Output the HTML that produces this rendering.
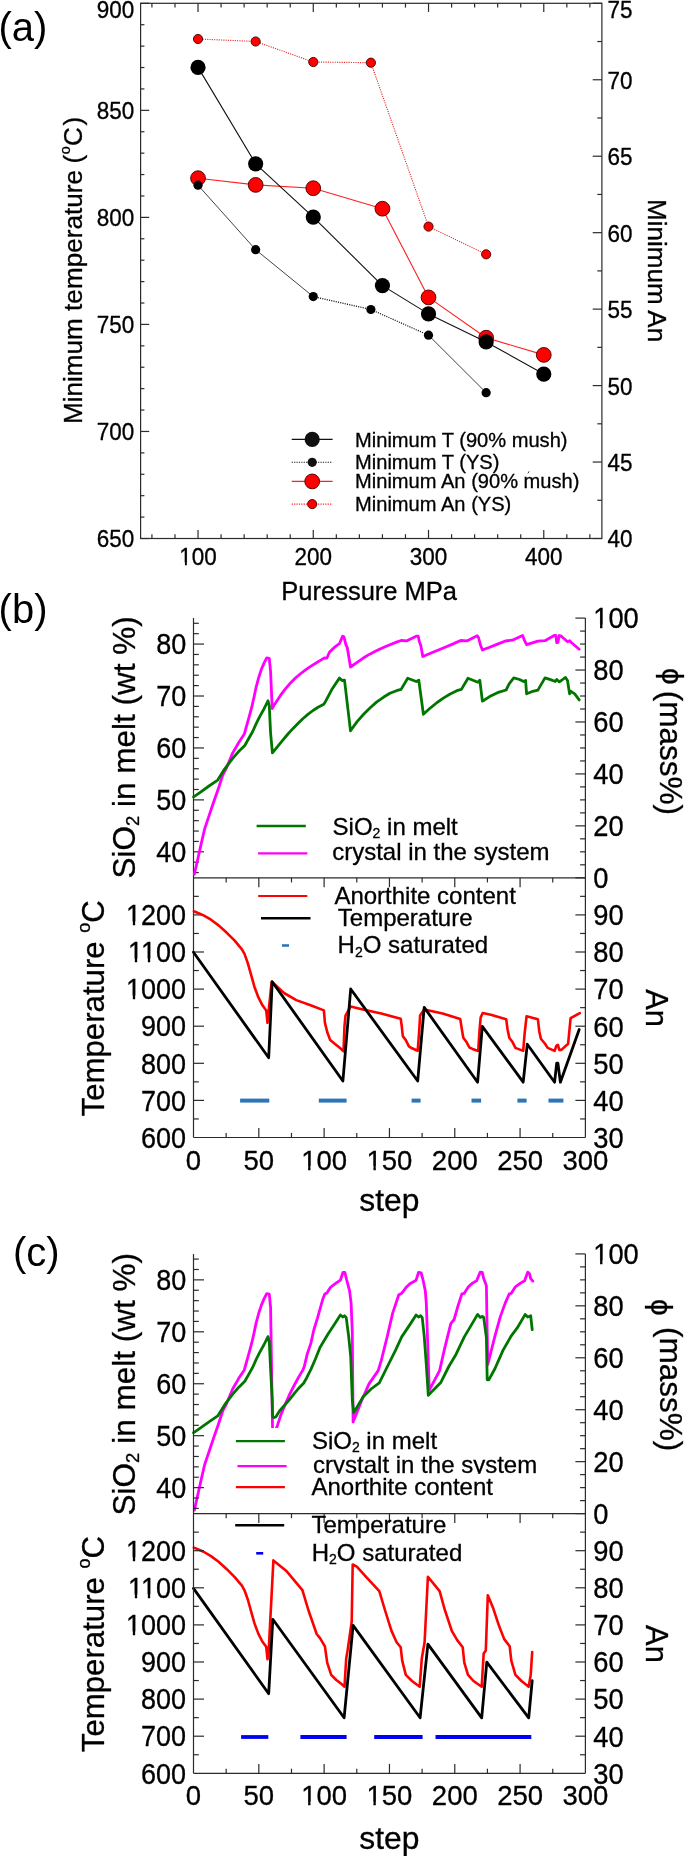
<!DOCTYPE html>
<html><head><meta charset="utf-8"><title>figure</title>
<style>
html,body{margin:0;padding:0;background:#fff;}
body{width:685px;height:1856px;overflow:hidden;}
svg{display:block;will-change:transform;}
svg text{font-family:"Liberation Sans", sans-serif;fill:#000;stroke:#000;stroke-width:0.3px;}
</style></head><body>
<svg width="685" height="1856" viewBox="0 0 685 1856">
<rect x="0" y="0" width="685" height="1856" fill="#fff"/>
<rect x="140.6" y="3.3" width="461.3" height="535.2" fill="none" stroke="#2b2b2b" stroke-width="1.2"/>
<line x1="140.6" y1="538.5" x2="149.2" y2="538.5" stroke="#2b2b2b" stroke-width="1.2"/>
<line x1="140.6" y1="517.09" x2="144.4" y2="517.09" stroke="#2b2b2b" stroke-width="1.2"/>
<line x1="140.6" y1="495.68" x2="144.4" y2="495.68" stroke="#2b2b2b" stroke-width="1.2"/>
<line x1="140.6" y1="474.28" x2="144.4" y2="474.28" stroke="#2b2b2b" stroke-width="1.2"/>
<line x1="140.6" y1="452.87" x2="144.4" y2="452.87" stroke="#2b2b2b" stroke-width="1.2"/>
<line x1="140.6" y1="431.46" x2="149.2" y2="431.46" stroke="#2b2b2b" stroke-width="1.2"/>
<line x1="140.6" y1="410.05" x2="144.4" y2="410.05" stroke="#2b2b2b" stroke-width="1.2"/>
<line x1="140.6" y1="388.64" x2="144.4" y2="388.64" stroke="#2b2b2b" stroke-width="1.2"/>
<line x1="140.6" y1="367.24" x2="144.4" y2="367.24" stroke="#2b2b2b" stroke-width="1.2"/>
<line x1="140.6" y1="345.83" x2="144.4" y2="345.83" stroke="#2b2b2b" stroke-width="1.2"/>
<line x1="140.6" y1="324.42" x2="149.2" y2="324.42" stroke="#2b2b2b" stroke-width="1.2"/>
<line x1="140.6" y1="303.01" x2="144.4" y2="303.01" stroke="#2b2b2b" stroke-width="1.2"/>
<line x1="140.6" y1="281.6" x2="144.4" y2="281.6" stroke="#2b2b2b" stroke-width="1.2"/>
<line x1="140.6" y1="260.2" x2="144.4" y2="260.2" stroke="#2b2b2b" stroke-width="1.2"/>
<line x1="140.6" y1="238.79" x2="144.4" y2="238.79" stroke="#2b2b2b" stroke-width="1.2"/>
<line x1="140.6" y1="217.38" x2="149.2" y2="217.38" stroke="#2b2b2b" stroke-width="1.2"/>
<line x1="140.6" y1="195.97" x2="144.4" y2="195.97" stroke="#2b2b2b" stroke-width="1.2"/>
<line x1="140.6" y1="174.56" x2="144.4" y2="174.56" stroke="#2b2b2b" stroke-width="1.2"/>
<line x1="140.6" y1="153.16" x2="144.4" y2="153.16" stroke="#2b2b2b" stroke-width="1.2"/>
<line x1="140.6" y1="131.75" x2="144.4" y2="131.75" stroke="#2b2b2b" stroke-width="1.2"/>
<line x1="140.6" y1="110.34" x2="149.2" y2="110.34" stroke="#2b2b2b" stroke-width="1.2"/>
<line x1="140.6" y1="88.93" x2="144.4" y2="88.93" stroke="#2b2b2b" stroke-width="1.2"/>
<line x1="140.6" y1="67.52" x2="144.4" y2="67.52" stroke="#2b2b2b" stroke-width="1.2"/>
<line x1="140.6" y1="46.12" x2="144.4" y2="46.12" stroke="#2b2b2b" stroke-width="1.2"/>
<line x1="140.6" y1="24.71" x2="144.4" y2="24.71" stroke="#2b2b2b" stroke-width="1.2"/>
<line x1="140.6" y1="3.3" x2="149.2" y2="3.3" stroke="#2b2b2b" stroke-width="1.2"/>
<line x1="601.9" y1="538.5" x2="592.7" y2="538.5" stroke="#2b2b2b" stroke-width="1.2"/>
<line x1="601.9" y1="500.27" x2="597.3" y2="500.27" stroke="#2b2b2b" stroke-width="1.2"/>
<line x1="601.9" y1="462.04" x2="592.7" y2="462.04" stroke="#2b2b2b" stroke-width="1.2"/>
<line x1="601.9" y1="423.81" x2="597.3" y2="423.81" stroke="#2b2b2b" stroke-width="1.2"/>
<line x1="601.9" y1="385.59" x2="592.7" y2="385.59" stroke="#2b2b2b" stroke-width="1.2"/>
<line x1="601.9" y1="347.36" x2="597.3" y2="347.36" stroke="#2b2b2b" stroke-width="1.2"/>
<line x1="601.9" y1="309.13" x2="592.7" y2="309.13" stroke="#2b2b2b" stroke-width="1.2"/>
<line x1="601.9" y1="270.9" x2="597.3" y2="270.9" stroke="#2b2b2b" stroke-width="1.2"/>
<line x1="601.9" y1="232.67" x2="592.7" y2="232.67" stroke="#2b2b2b" stroke-width="1.2"/>
<line x1="601.9" y1="194.44" x2="597.3" y2="194.44" stroke="#2b2b2b" stroke-width="1.2"/>
<line x1="601.9" y1="156.21" x2="592.7" y2="156.21" stroke="#2b2b2b" stroke-width="1.2"/>
<line x1="601.9" y1="117.99" x2="597.3" y2="117.99" stroke="#2b2b2b" stroke-width="1.2"/>
<line x1="601.9" y1="79.76" x2="592.7" y2="79.76" stroke="#2b2b2b" stroke-width="1.2"/>
<line x1="601.9" y1="41.53" x2="597.3" y2="41.53" stroke="#2b2b2b" stroke-width="1.2"/>
<line x1="601.9" y1="3.3" x2="592.7" y2="3.3" stroke="#2b2b2b" stroke-width="1.2"/>
<line x1="151.93" y1="538.5" x2="151.93" y2="534.2" stroke="#2b2b2b" stroke-width="1.2"/>
<line x1="151.93" y1="3.3" x2="151.93" y2="7.6" stroke="#2b2b2b" stroke-width="1.2"/>
<line x1="174.98" y1="538.5" x2="174.98" y2="534.2" stroke="#2b2b2b" stroke-width="1.2"/>
<line x1="174.98" y1="3.3" x2="174.98" y2="7.6" stroke="#2b2b2b" stroke-width="1.2"/>
<line x1="198.03" y1="538.5" x2="198.03" y2="529.9" stroke="#2b2b2b" stroke-width="1.2"/>
<line x1="198.03" y1="3.3" x2="198.03" y2="11.9" stroke="#2b2b2b" stroke-width="1.2"/>
<line x1="221.08" y1="538.5" x2="221.08" y2="534.2" stroke="#2b2b2b" stroke-width="1.2"/>
<line x1="221.08" y1="3.3" x2="221.08" y2="7.6" stroke="#2b2b2b" stroke-width="1.2"/>
<line x1="244.12" y1="538.5" x2="244.12" y2="534.2" stroke="#2b2b2b" stroke-width="1.2"/>
<line x1="244.12" y1="3.3" x2="244.12" y2="7.6" stroke="#2b2b2b" stroke-width="1.2"/>
<line x1="267.18" y1="538.5" x2="267.18" y2="534.2" stroke="#2b2b2b" stroke-width="1.2"/>
<line x1="267.18" y1="3.3" x2="267.18" y2="7.6" stroke="#2b2b2b" stroke-width="1.2"/>
<line x1="290.23" y1="538.5" x2="290.23" y2="534.2" stroke="#2b2b2b" stroke-width="1.2"/>
<line x1="290.23" y1="3.3" x2="290.23" y2="7.6" stroke="#2b2b2b" stroke-width="1.2"/>
<line x1="313.27" y1="538.5" x2="313.27" y2="529.9" stroke="#2b2b2b" stroke-width="1.2"/>
<line x1="313.27" y1="3.3" x2="313.27" y2="11.9" stroke="#2b2b2b" stroke-width="1.2"/>
<line x1="336.33" y1="538.5" x2="336.33" y2="534.2" stroke="#2b2b2b" stroke-width="1.2"/>
<line x1="336.33" y1="3.3" x2="336.33" y2="7.6" stroke="#2b2b2b" stroke-width="1.2"/>
<line x1="359.38" y1="538.5" x2="359.38" y2="534.2" stroke="#2b2b2b" stroke-width="1.2"/>
<line x1="359.38" y1="3.3" x2="359.38" y2="7.6" stroke="#2b2b2b" stroke-width="1.2"/>
<line x1="382.43" y1="538.5" x2="382.43" y2="534.2" stroke="#2b2b2b" stroke-width="1.2"/>
<line x1="382.43" y1="3.3" x2="382.43" y2="7.6" stroke="#2b2b2b" stroke-width="1.2"/>
<line x1="405.48" y1="538.5" x2="405.48" y2="534.2" stroke="#2b2b2b" stroke-width="1.2"/>
<line x1="405.48" y1="3.3" x2="405.48" y2="7.6" stroke="#2b2b2b" stroke-width="1.2"/>
<line x1="428.52" y1="538.5" x2="428.52" y2="529.9" stroke="#2b2b2b" stroke-width="1.2"/>
<line x1="428.52" y1="3.3" x2="428.52" y2="11.9" stroke="#2b2b2b" stroke-width="1.2"/>
<line x1="451.58" y1="538.5" x2="451.58" y2="534.2" stroke="#2b2b2b" stroke-width="1.2"/>
<line x1="451.58" y1="3.3" x2="451.58" y2="7.6" stroke="#2b2b2b" stroke-width="1.2"/>
<line x1="474.62" y1="538.5" x2="474.62" y2="534.2" stroke="#2b2b2b" stroke-width="1.2"/>
<line x1="474.62" y1="3.3" x2="474.62" y2="7.6" stroke="#2b2b2b" stroke-width="1.2"/>
<line x1="497.68" y1="538.5" x2="497.68" y2="534.2" stroke="#2b2b2b" stroke-width="1.2"/>
<line x1="497.68" y1="3.3" x2="497.68" y2="7.6" stroke="#2b2b2b" stroke-width="1.2"/>
<line x1="520.73" y1="538.5" x2="520.73" y2="534.2" stroke="#2b2b2b" stroke-width="1.2"/>
<line x1="520.73" y1="3.3" x2="520.73" y2="7.6" stroke="#2b2b2b" stroke-width="1.2"/>
<line x1="543.77" y1="538.5" x2="543.77" y2="529.9" stroke="#2b2b2b" stroke-width="1.2"/>
<line x1="543.77" y1="3.3" x2="543.77" y2="11.9" stroke="#2b2b2b" stroke-width="1.2"/>
<line x1="566.83" y1="538.5" x2="566.83" y2="534.2" stroke="#2b2b2b" stroke-width="1.2"/>
<line x1="566.83" y1="3.3" x2="566.83" y2="7.6" stroke="#2b2b2b" stroke-width="1.2"/>
<line x1="589.88" y1="538.5" x2="589.88" y2="534.2" stroke="#2b2b2b" stroke-width="1.2"/>
<line x1="589.88" y1="3.3" x2="589.88" y2="7.6" stroke="#2b2b2b" stroke-width="1.2"/>
<g transform="translate(134.3 547.4) scale(1 1.075)"><text font-size="22.5" text-anchor="end">650</text></g>
<g transform="translate(134.3 440.36) scale(1 1.075)"><text font-size="22.5" text-anchor="end">700</text></g>
<g transform="translate(134.3 333.32) scale(1 1.075)"><text font-size="22.5" text-anchor="end">750</text></g>
<g transform="translate(134.3 226.28) scale(1 1.075)"><text font-size="22.5" text-anchor="end">800</text></g>
<g transform="translate(134.3 119.24) scale(1 1.075)"><text font-size="22.5" text-anchor="end">850</text></g>
<g transform="translate(134.3 17.8) scale(1 1.075)"><text font-size="22.5" text-anchor="end">900</text></g>
<g transform="translate(607.6 547.46) scale(1 1.075)"><text font-size="22.5" text-anchor="start">40</text></g>
<g transform="translate(607.6 471) scale(1 1.075)"><text font-size="22.5" text-anchor="start">45</text></g>
<g transform="translate(607.6 394.55) scale(1 1.075)"><text font-size="22.5" text-anchor="start">50</text></g>
<g transform="translate(607.6 318.09) scale(1 1.075)"><text font-size="22.5" text-anchor="start">55</text></g>
<g transform="translate(607.6 241.63) scale(1 1.075)"><text font-size="22.5" text-anchor="start">60</text></g>
<g transform="translate(607.6 165.17) scale(1 1.075)"><text font-size="22.5" text-anchor="start">65</text></g>
<g transform="translate(607.6 88.72) scale(1 1.075)"><text font-size="22.5" text-anchor="start">70</text></g>
<g transform="translate(607.6 17.6) scale(1 1.075)"><text font-size="22.5" text-anchor="start">75</text></g>
<g transform="translate(198.03 565.3) scale(1 1.075)"><text font-size="22.5" text-anchor="middle">100</text><rect x="-17.87" y="-2.81" width="4.77" height="4.5" fill="#fff"/><rect x="-11.17" y="-2.81" width="4.5" height="4.5" fill="#fff"/></g>
<g transform="translate(313.27 565.3) scale(1 1.075)"><text font-size="22.5" text-anchor="middle">200</text></g>
<g transform="translate(428.52 565.3) scale(1 1.075)"><text font-size="22.5" text-anchor="middle">300</text></g>
<g transform="translate(543.77 565.3) scale(1 1.075)"><text font-size="22.5" text-anchor="middle">400</text></g>
<text x="281.3" y="600.1" font-size="25.5" text-anchor="start">Puressure MPa</text>
<text x="82.3" y="424.1" font-size="26.14" text-anchor="start" transform="rotate(-90 82.3 424.1)">Minimum temperature</text>
<text x="82.3" y="163.4" font-size="26.14" text-anchor="start" transform="rotate(-90 82.3 163.4)">(</text>
<text x="69.7" y="154.2" font-size="14.5" text-anchor="start" transform="rotate(-90 69.7 154.2)">o</text>
<text x="82.3" y="146" font-size="26.14" text-anchor="start" transform="rotate(-90 82.3 146)">C</text>
<text x="82.3" y="125.6" font-size="26.14" text-anchor="start" transform="rotate(-90 82.3 125.6)">)</text>
<text x="647.8" y="199.1" font-size="26" text-anchor="start" transform="rotate(90 647.8 199.1)">Minimum An</text>
<text x="-1.6" y="41.2" font-size="40" text-anchor="start" style="stroke-width:0">(a)</text>
<polyline points="198.03,39 255.65,41.5 313.27,62 370.9,62.7 428.52,226.6 486.15,254.3" fill="none" stroke="#e42a2a" stroke-width="1.15" stroke-linejoin="round" stroke-linecap="butt" stroke-dasharray="1.1 1.2"/>
<polyline points="198.03,178.2 255.65,184.9 313.27,188.2 382.43,208.7 428.52,297.4 486.15,337.7 543.77,354.9" fill="none" stroke="#ff2020" stroke-width="1.1" stroke-linejoin="round" stroke-linecap="round"/>
<polyline points="198.03,185.2 255.65,249.7 313.27,296.6" fill="none" stroke="#444" stroke-width="1.0" stroke-linejoin="round" stroke-linecap="round"/>
<polyline points="428.52,335.2 486.15,392.7" fill="none" stroke="#444" stroke-width="1.0" stroke-linejoin="round" stroke-linecap="round"/>
<polyline points="313.27,296.6 370.9,309.5 428.52,335.2" fill="none" stroke="#111" stroke-width="1.2" stroke-linejoin="round" stroke-linecap="butt" stroke-dasharray="1.1 1.2"/>
<polyline points="198.03,67.4 255.65,163.8 313.27,217.1 382.43,285.6 428.52,313.9 486.15,341.9 543.77,374.1" fill="none" stroke="#111" stroke-width="1.1" stroke-linejoin="round" stroke-linecap="round"/>
<circle cx="198.03" cy="39" r="4.6" fill="#f00" stroke="#400" stroke-width="0.9"/>
<circle cx="255.65" cy="41.5" r="4.6" fill="#f00" stroke="#400" stroke-width="0.9"/>
<circle cx="313.27" cy="62" r="4.6" fill="#f00" stroke="#400" stroke-width="0.9"/>
<circle cx="370.9" cy="62.7" r="4.6" fill="#f00" stroke="#400" stroke-width="0.9"/>
<circle cx="428.52" cy="226.6" r="4.6" fill="#f00" stroke="#400" stroke-width="0.9"/>
<circle cx="486.15" cy="254.3" r="4.6" fill="#f00" stroke="#400" stroke-width="0.9"/>
<circle cx="198.03" cy="178.2" r="7.4" fill="#f00" stroke="#400" stroke-width="0.9"/>
<circle cx="255.65" cy="184.9" r="7.4" fill="#f00" stroke="#400" stroke-width="0.9"/>
<circle cx="313.27" cy="188.2" r="7.4" fill="#f00" stroke="#400" stroke-width="0.9"/>
<circle cx="382.43" cy="208.7" r="7.4" fill="#f00" stroke="#400" stroke-width="0.9"/>
<circle cx="428.52" cy="297.4" r="7.4" fill="#f00" stroke="#400" stroke-width="0.9"/>
<circle cx="486.15" cy="337.7" r="7.4" fill="#f00" stroke="#400" stroke-width="0.9"/>
<circle cx="543.77" cy="354.9" r="7.4" fill="#f00" stroke="#400" stroke-width="0.9"/>
<circle cx="198.03" cy="185.2" r="4.6" fill="#000"/>
<circle cx="255.65" cy="249.7" r="4.6" fill="#000"/>
<circle cx="313.27" cy="296.6" r="4.6" fill="#000"/>
<circle cx="370.9" cy="309.5" r="4.6" fill="#000"/>
<circle cx="428.52" cy="335.2" r="4.6" fill="#000"/>
<circle cx="486.15" cy="392.7" r="4.6" fill="#000"/>
<circle cx="198.03" cy="67.4" r="7.6" fill="#000"/>
<circle cx="255.65" cy="163.8" r="7.6" fill="#000"/>
<circle cx="313.27" cy="217.1" r="7.6" fill="#000"/>
<circle cx="382.43" cy="285.6" r="7.6" fill="#000"/>
<circle cx="428.52" cy="313.9" r="7.6" fill="#000"/>
<circle cx="486.15" cy="341.9" r="7.6" fill="#000"/>
<circle cx="543.77" cy="374.1" r="7.6" fill="#000"/>
<line x1="291.7" y1="439.4" x2="332.6" y2="439.4" stroke="#111" stroke-width="1.1"/>
<circle cx="312.2" cy="439.4" r="7.6" fill="#111"/>
<text x="355" y="446.6" font-size="20.1" text-anchor="start">Minimum T (90% mush)</text>
<line x1="291.7" y1="462.3" x2="332.6" y2="462.3" stroke="#111" stroke-width="1.1" stroke-dasharray="1.2 1.2"/>
<circle cx="312.2" cy="462.3" r="4.6" fill="#111"/>
<text x="355" y="468.8" font-size="20.1" text-anchor="start">Minimum T (YS)</text>
<line x1="291.7" y1="481.4" x2="332.6" y2="481.4" stroke="#ff2020" stroke-width="1.1"/>
<circle cx="312.2" cy="481.4" r="7.4" fill="#f00" stroke="#400" stroke-width="0.9"/>
<text x="355" y="488.2" font-size="20.1" text-anchor="start">Minimum An (90% mush)</text>
<line x1="291.7" y1="504.1" x2="332.6" y2="504.1" stroke="#ff2020" stroke-width="1.1" stroke-dasharray="1.2 1.2"/>
<circle cx="312.2" cy="504.1" r="4.6" fill="#f00" stroke="#400" stroke-width="0.9"/>
<text x="355" y="510.9" font-size="20.1" text-anchor="start">Minimum An (YS)</text>
<line x1="527.9" y1="473.4" x2="529.2" y2="471.3" stroke="#222" stroke-width="0.9"/>
<line x1="193.5" y1="618.1" x2="193.5" y2="1137.5" stroke="#2b2b2b" stroke-width="1.2"/>
<line x1="585.4" y1="618.1" x2="585.4" y2="1137.5" stroke="#2b2b2b" stroke-width="1.2"/>
<line x1="193.5" y1="877.8" x2="585.4" y2="877.8" stroke="#2b2b2b" stroke-width="1.2"/>
<line x1="193.5" y1="1137.5" x2="585.4" y2="1137.5" stroke="#2b2b2b" stroke-width="1.2"/>
<line x1="193.5" y1="872.61" x2="198.8" y2="872.61" stroke="#2b2b2b" stroke-width="1.2"/>
<line x1="193.5" y1="862.22" x2="198.8" y2="862.22" stroke="#2b2b2b" stroke-width="1.2"/>
<line x1="193.5" y1="851.83" x2="204" y2="851.83" stroke="#2b2b2b" stroke-width="1.2"/>
<line x1="193.5" y1="841.44" x2="198.8" y2="841.44" stroke="#2b2b2b" stroke-width="1.2"/>
<line x1="193.5" y1="831.05" x2="198.8" y2="831.05" stroke="#2b2b2b" stroke-width="1.2"/>
<line x1="193.5" y1="820.67" x2="198.8" y2="820.67" stroke="#2b2b2b" stroke-width="1.2"/>
<line x1="193.5" y1="810.28" x2="198.8" y2="810.28" stroke="#2b2b2b" stroke-width="1.2"/>
<line x1="193.5" y1="799.89" x2="204" y2="799.89" stroke="#2b2b2b" stroke-width="1.2"/>
<line x1="193.5" y1="789.5" x2="198.8" y2="789.5" stroke="#2b2b2b" stroke-width="1.2"/>
<line x1="193.5" y1="779.11" x2="198.8" y2="779.11" stroke="#2b2b2b" stroke-width="1.2"/>
<line x1="193.5" y1="768.73" x2="198.8" y2="768.73" stroke="#2b2b2b" stroke-width="1.2"/>
<line x1="193.5" y1="758.34" x2="198.8" y2="758.34" stroke="#2b2b2b" stroke-width="1.2"/>
<line x1="193.5" y1="747.95" x2="204" y2="747.95" stroke="#2b2b2b" stroke-width="1.2"/>
<line x1="193.5" y1="737.56" x2="198.8" y2="737.56" stroke="#2b2b2b" stroke-width="1.2"/>
<line x1="193.5" y1="727.17" x2="198.8" y2="727.17" stroke="#2b2b2b" stroke-width="1.2"/>
<line x1="193.5" y1="716.79" x2="198.8" y2="716.79" stroke="#2b2b2b" stroke-width="1.2"/>
<line x1="193.5" y1="706.4" x2="198.8" y2="706.4" stroke="#2b2b2b" stroke-width="1.2"/>
<line x1="193.5" y1="696.01" x2="204" y2="696.01" stroke="#2b2b2b" stroke-width="1.2"/>
<line x1="193.5" y1="685.62" x2="198.8" y2="685.62" stroke="#2b2b2b" stroke-width="1.2"/>
<line x1="193.5" y1="675.23" x2="198.8" y2="675.23" stroke="#2b2b2b" stroke-width="1.2"/>
<line x1="193.5" y1="664.85" x2="198.8" y2="664.85" stroke="#2b2b2b" stroke-width="1.2"/>
<line x1="193.5" y1="654.46" x2="198.8" y2="654.46" stroke="#2b2b2b" stroke-width="1.2"/>
<line x1="193.5" y1="644.07" x2="204" y2="644.07" stroke="#2b2b2b" stroke-width="1.2"/>
<line x1="193.5" y1="633.68" x2="198.8" y2="633.68" stroke="#2b2b2b" stroke-width="1.2"/>
<line x1="193.5" y1="623.29" x2="198.8" y2="623.29" stroke="#2b2b2b" stroke-width="1.2"/>
<line x1="585.4" y1="877.8" x2="575.4" y2="877.8" stroke="#2b2b2b" stroke-width="1.2"/>
<line x1="585.4" y1="864.81" x2="580.1" y2="864.81" stroke="#2b2b2b" stroke-width="1.2"/>
<line x1="585.4" y1="851.83" x2="580.1" y2="851.83" stroke="#2b2b2b" stroke-width="1.2"/>
<line x1="585.4" y1="838.84" x2="580.1" y2="838.84" stroke="#2b2b2b" stroke-width="1.2"/>
<line x1="585.4" y1="825.86" x2="575.4" y2="825.86" stroke="#2b2b2b" stroke-width="1.2"/>
<line x1="585.4" y1="812.88" x2="580.1" y2="812.88" stroke="#2b2b2b" stroke-width="1.2"/>
<line x1="585.4" y1="799.89" x2="580.1" y2="799.89" stroke="#2b2b2b" stroke-width="1.2"/>
<line x1="585.4" y1="786.9" x2="580.1" y2="786.9" stroke="#2b2b2b" stroke-width="1.2"/>
<line x1="585.4" y1="773.92" x2="575.4" y2="773.92" stroke="#2b2b2b" stroke-width="1.2"/>
<line x1="585.4" y1="760.93" x2="580.1" y2="760.93" stroke="#2b2b2b" stroke-width="1.2"/>
<line x1="585.4" y1="747.95" x2="580.1" y2="747.95" stroke="#2b2b2b" stroke-width="1.2"/>
<line x1="585.4" y1="734.97" x2="580.1" y2="734.97" stroke="#2b2b2b" stroke-width="1.2"/>
<line x1="585.4" y1="721.98" x2="575.4" y2="721.98" stroke="#2b2b2b" stroke-width="1.2"/>
<line x1="585.4" y1="709" x2="580.1" y2="709" stroke="#2b2b2b" stroke-width="1.2"/>
<line x1="585.4" y1="696.01" x2="580.1" y2="696.01" stroke="#2b2b2b" stroke-width="1.2"/>
<line x1="585.4" y1="683.02" x2="580.1" y2="683.02" stroke="#2b2b2b" stroke-width="1.2"/>
<line x1="585.4" y1="670.04" x2="575.4" y2="670.04" stroke="#2b2b2b" stroke-width="1.2"/>
<line x1="585.4" y1="657.06" x2="580.1" y2="657.06" stroke="#2b2b2b" stroke-width="1.2"/>
<line x1="585.4" y1="644.07" x2="580.1" y2="644.07" stroke="#2b2b2b" stroke-width="1.2"/>
<line x1="585.4" y1="631.09" x2="580.1" y2="631.09" stroke="#2b2b2b" stroke-width="1.2"/>
<line x1="585.4" y1="618.1" x2="575.4" y2="618.1" stroke="#2b2b2b" stroke-width="1.2"/>
<line x1="193.5" y1="1118.95" x2="198.8" y2="1118.95" stroke="#2b2b2b" stroke-width="1.2"/>
<line x1="193.5" y1="1100.4" x2="204" y2="1100.4" stroke="#2b2b2b" stroke-width="1.2"/>
<line x1="193.5" y1="1081.85" x2="198.8" y2="1081.85" stroke="#2b2b2b" stroke-width="1.2"/>
<line x1="193.5" y1="1063.3" x2="204" y2="1063.3" stroke="#2b2b2b" stroke-width="1.2"/>
<line x1="193.5" y1="1044.75" x2="198.8" y2="1044.75" stroke="#2b2b2b" stroke-width="1.2"/>
<line x1="193.5" y1="1026.2" x2="204" y2="1026.2" stroke="#2b2b2b" stroke-width="1.2"/>
<line x1="193.5" y1="1007.65" x2="198.8" y2="1007.65" stroke="#2b2b2b" stroke-width="1.2"/>
<line x1="193.5" y1="989.1" x2="204" y2="989.1" stroke="#2b2b2b" stroke-width="1.2"/>
<line x1="193.5" y1="970.55" x2="198.8" y2="970.55" stroke="#2b2b2b" stroke-width="1.2"/>
<line x1="193.5" y1="952" x2="204" y2="952" stroke="#2b2b2b" stroke-width="1.2"/>
<line x1="193.5" y1="933.45" x2="198.8" y2="933.45" stroke="#2b2b2b" stroke-width="1.2"/>
<line x1="193.5" y1="914.9" x2="204" y2="914.9" stroke="#2b2b2b" stroke-width="1.2"/>
<line x1="193.5" y1="896.35" x2="198.8" y2="896.35" stroke="#2b2b2b" stroke-width="1.2"/>
<line x1="585.4" y1="1118.95" x2="580.1" y2="1118.95" stroke="#2b2b2b" stroke-width="1.2"/>
<line x1="585.4" y1="1100.4" x2="575.4" y2="1100.4" stroke="#2b2b2b" stroke-width="1.2"/>
<line x1="585.4" y1="1081.85" x2="580.1" y2="1081.85" stroke="#2b2b2b" stroke-width="1.2"/>
<line x1="585.4" y1="1063.3" x2="575.4" y2="1063.3" stroke="#2b2b2b" stroke-width="1.2"/>
<line x1="585.4" y1="1044.75" x2="580.1" y2="1044.75" stroke="#2b2b2b" stroke-width="1.2"/>
<line x1="585.4" y1="1026.2" x2="575.4" y2="1026.2" stroke="#2b2b2b" stroke-width="1.2"/>
<line x1="585.4" y1="1007.65" x2="580.1" y2="1007.65" stroke="#2b2b2b" stroke-width="1.2"/>
<line x1="585.4" y1="989.1" x2="575.4" y2="989.1" stroke="#2b2b2b" stroke-width="1.2"/>
<line x1="585.4" y1="970.55" x2="580.1" y2="970.55" stroke="#2b2b2b" stroke-width="1.2"/>
<line x1="585.4" y1="952" x2="575.4" y2="952" stroke="#2b2b2b" stroke-width="1.2"/>
<line x1="585.4" y1="933.45" x2="580.1" y2="933.45" stroke="#2b2b2b" stroke-width="1.2"/>
<line x1="585.4" y1="914.9" x2="575.4" y2="914.9" stroke="#2b2b2b" stroke-width="1.2"/>
<line x1="585.4" y1="896.35" x2="580.1" y2="896.35" stroke="#2b2b2b" stroke-width="1.2"/>
<line x1="226.16" y1="1137.5" x2="226.16" y2="1132.9" stroke="#2b2b2b" stroke-width="1.2"/>
<line x1="226.16" y1="877.8" x2="226.16" y2="882.4" stroke="#2b2b2b" stroke-width="1.2"/>
<line x1="258.82" y1="1137.5" x2="258.82" y2="1128.1" stroke="#2b2b2b" stroke-width="1.2"/>
<line x1="258.82" y1="877.8" x2="258.82" y2="887.2" stroke="#2b2b2b" stroke-width="1.2"/>
<line x1="291.48" y1="1137.5" x2="291.48" y2="1132.9" stroke="#2b2b2b" stroke-width="1.2"/>
<line x1="291.48" y1="877.8" x2="291.48" y2="882.4" stroke="#2b2b2b" stroke-width="1.2"/>
<line x1="324.13" y1="1137.5" x2="324.13" y2="1128.1" stroke="#2b2b2b" stroke-width="1.2"/>
<line x1="324.13" y1="877.8" x2="324.13" y2="887.2" stroke="#2b2b2b" stroke-width="1.2"/>
<line x1="356.79" y1="1137.5" x2="356.79" y2="1132.9" stroke="#2b2b2b" stroke-width="1.2"/>
<line x1="356.79" y1="877.8" x2="356.79" y2="882.4" stroke="#2b2b2b" stroke-width="1.2"/>
<line x1="389.45" y1="1137.5" x2="389.45" y2="1128.1" stroke="#2b2b2b" stroke-width="1.2"/>
<line x1="389.45" y1="877.8" x2="389.45" y2="887.2" stroke="#2b2b2b" stroke-width="1.2"/>
<line x1="422.11" y1="1137.5" x2="422.11" y2="1132.9" stroke="#2b2b2b" stroke-width="1.2"/>
<line x1="422.11" y1="877.8" x2="422.11" y2="882.4" stroke="#2b2b2b" stroke-width="1.2"/>
<line x1="454.77" y1="1137.5" x2="454.77" y2="1128.1" stroke="#2b2b2b" stroke-width="1.2"/>
<line x1="454.77" y1="877.8" x2="454.77" y2="887.2" stroke="#2b2b2b" stroke-width="1.2"/>
<line x1="487.43" y1="1137.5" x2="487.43" y2="1132.9" stroke="#2b2b2b" stroke-width="1.2"/>
<line x1="487.43" y1="877.8" x2="487.43" y2="882.4" stroke="#2b2b2b" stroke-width="1.2"/>
<line x1="520.08" y1="1137.5" x2="520.08" y2="1128.1" stroke="#2b2b2b" stroke-width="1.2"/>
<line x1="520.08" y1="877.8" x2="520.08" y2="887.2" stroke="#2b2b2b" stroke-width="1.2"/>
<line x1="552.74" y1="1137.5" x2="552.74" y2="1132.9" stroke="#2b2b2b" stroke-width="1.2"/>
<line x1="552.74" y1="877.8" x2="552.74" y2="882.4" stroke="#2b2b2b" stroke-width="1.2"/>
<g transform="translate(186.2 862.03) scale(1 1.06)"><text font-size="27.0" text-anchor="end">40</text></g>
<g transform="translate(186.2 810.09) scale(1 1.06)"><text font-size="27.0" text-anchor="end">50</text></g>
<g transform="translate(186.2 758.15) scale(1 1.06)"><text font-size="27.0" text-anchor="end">60</text></g>
<g transform="translate(186.2 706.21) scale(1 1.06)"><text font-size="27.0" text-anchor="end">70</text></g>
<g transform="translate(186.2 654.27) scale(1 1.06)"><text font-size="27.0" text-anchor="end">80</text></g>
<g transform="translate(593.2 888.1) scale(1 1.06)"><text font-size="27.3" text-anchor="start">0</text></g>
<g transform="translate(593.2 836.16) scale(1 1.06)"><text font-size="27.3" text-anchor="start">20</text></g>
<g transform="translate(593.2 784.22) scale(1 1.06)"><text font-size="27.3" text-anchor="start">40</text></g>
<g transform="translate(593.2 732.28) scale(1 1.06)"><text font-size="27.3" text-anchor="start">60</text></g>
<g transform="translate(593.2 680.34) scale(1 1.06)"><text font-size="27.3" text-anchor="start">80</text></g>
<g transform="translate(593.2 628.4) scale(1 1.06)"><text font-size="27.3" text-anchor="start">100</text><rect x="1.09" y="-3.41" width="5.79" height="5.46" fill="#fff"/><rect x="9.23" y="-3.41" width="5.46" height="5.46" fill="#fff"/></g>
<g transform="translate(186.1 1147.7) scale(1 1.06)"><text font-size="27.0" text-anchor="end">600</text></g>
<g transform="translate(186.1 1110.6) scale(1 1.06)"><text font-size="27.0" text-anchor="end">700</text></g>
<g transform="translate(186.1 1073.5) scale(1 1.06)"><text font-size="27.0" text-anchor="end">800</text></g>
<g transform="translate(186.1 1036.4) scale(1 1.06)"><text font-size="27.0" text-anchor="end">900</text></g>
<g transform="translate(186.1 999.3) scale(1 1.06)"><text font-size="27.0" text-anchor="end">1000</text><rect x="-58.98" y="-3.38" width="5.72" height="5.4" fill="#fff"/><rect x="-50.94" y="-3.38" width="5.4" height="5.4" fill="#fff"/></g>
<g transform="translate(186.1 962.2) scale(1 1.06)"><text font-size="27.0" text-anchor="end">1100</text><rect x="-56.98" y="-3.38" width="5.72" height="5.4" fill="#fff"/><rect x="-48.94" y="-3.38" width="5.4" height="5.4" fill="#fff"/><rect x="-43.97" y="-3.38" width="5.72" height="5.4" fill="#fff"/><rect x="-35.92" y="-3.38" width="5.4" height="5.4" fill="#fff"/></g>
<g transform="translate(186.1 925.1) scale(1 1.06)"><text font-size="27.0" text-anchor="end">1200</text><rect x="-58.98" y="-3.38" width="5.72" height="5.4" fill="#fff"/><rect x="-50.94" y="-3.38" width="5.4" height="5.4" fill="#fff"/></g>
<g transform="translate(593.2 1147.8) scale(1 1.06)"><text font-size="27.3" text-anchor="start">30</text></g>
<g transform="translate(593.2 1110.7) scale(1 1.06)"><text font-size="27.3" text-anchor="start">40</text></g>
<g transform="translate(593.2 1073.6) scale(1 1.06)"><text font-size="27.3" text-anchor="start">50</text></g>
<g transform="translate(593.2 1036.5) scale(1 1.06)"><text font-size="27.3" text-anchor="start">60</text></g>
<g transform="translate(593.2 999.4) scale(1 1.06)"><text font-size="27.3" text-anchor="start">70</text></g>
<g transform="translate(593.2 962.3) scale(1 1.06)"><text font-size="27.3" text-anchor="start">80</text></g>
<g transform="translate(593.2 925.2) scale(1 1.06)"><text font-size="27.3" text-anchor="start">90</text></g>
<g transform="translate(193.5 1169.5) scale(1 1)"><text font-size="27.5" text-anchor="middle">0</text></g>
<g transform="translate(258.82 1169.5) scale(1 1)"><text font-size="27.5" text-anchor="middle">50</text></g>
<g transform="translate(324.13 1169.5) scale(1 1)"><text font-size="27.5" text-anchor="middle">100</text><rect x="-21.84" y="-3.44" width="5.83" height="5.5" fill="#fff"/><rect x="-13.65" y="-3.44" width="5.5" height="5.5" fill="#fff"/></g>
<g transform="translate(389.45 1169.5) scale(1 1)"><text font-size="27.5" text-anchor="middle">150</text><rect x="-21.84" y="-3.44" width="5.83" height="5.5" fill="#fff"/><rect x="-13.65" y="-3.44" width="5.5" height="5.5" fill="#fff"/></g>
<g transform="translate(454.77 1169.5) scale(1 1)"><text font-size="27.5" text-anchor="middle">200</text></g>
<g transform="translate(520.08 1169.5) scale(1 1)"><text font-size="27.5" text-anchor="middle">250</text></g>
<g transform="translate(585.4 1169.5) scale(1 1)"><text font-size="27.5" text-anchor="middle">300</text></g>
<text x="389.3" y="1210.8" font-size="31.8" text-anchor="middle">step</text>
<text x="135" y="878.6" font-size="31.5" text-anchor="start" transform="rotate(-90 135 878.6)">SiO<tspan font-size="18.5" dy="4">2</tspan><tspan dy="-4"> in melt (wt %)</tspan></text>
<text x="103.6" y="1116.4" font-size="31.2" text-anchor="start" transform="rotate(-90 103.6 1116.4)">Temperature <tspan font-size="18" dy="-14">o</tspan><tspan dy="14">C</tspan></text>
<text x="662.3" y="667.9" font-size="29.6" text-anchor="start" transform="rotate(90 662.3 667.9)">ϕ</text>
<text x="659.6" y="690.8" font-size="31.5" text-anchor="start" transform="rotate(90 659.6 690.8)">(mass%)</text>
<text x="645.8" y="989.3" font-size="30.8" text-anchor="start" transform="rotate(90 645.8 989.3)">An</text>
<text x="-1.4" y="623" font-size="40" text-anchor="start" style="stroke-width:0">(b)</text>
<polyline points="194.4,874.3 197.3,861.2 200.9,845.1 204.6,829 209,815.9 213.4,802.8 218.5,788.2 222.8,775 226.4,768.2 232.5,753.4 238.6,742.8 244.3,734.1 246.5,726.2 249.2,716.6 251.8,706.9 254,697.3 256.2,686.8 258.8,677.2 261.4,669.3 264,663.1 266.7,657.9 269.3,658.3 270.6,671.9 272.2,708.5 275.2,703.4 280.3,695.7 285.4,688.8 290.5,682.9 295.7,677.8 300.8,673.5 305.9,669.6 311,666.1 316.1,663 321.2,659.9 324.3,657.9 326.8,658.2 329.4,652.3 334.3,647.4 339.4,643.7 342.6,636.2 343.9,636.8 345.9,644.7 347.2,647.3 350.5,667 357.1,662.4 363.6,657.8 370.2,653.9 376.8,650.6 383.4,647.6 389.9,644.7 396.5,642.1 401.1,640.5 407,640.8 416.2,636.2 418.2,636.2 419.5,642.1 420.8,645.4 422.8,656.5 430.5,653.2 438.4,650 446.3,646.7 454.2,643.4 460.7,640.5 467.3,640.8 477.2,635.8 478.5,637.5 480.4,644.7 482.4,650 489.6,647.3 497.5,644.1 505.4,641 512.3,640.2 522.6,635.5 524.6,640.7 526.6,644.7 537.9,641.1 545,640.7 554.2,635.5 555.9,635.5 556.7,642.7 557.9,642.3 559.3,635.5 561.4,636.2 567.5,641.7 569.6,640.7 571.6,642.7 579.2,649.2" fill="none" stroke="#ff00ff" stroke-width="2.8" stroke-linejoin="round" stroke-linecap="round"/>
<polyline points="193.6,796.9 198.8,793.3 209,786 217.7,780.1 224.6,769.1 232.5,758.6 238.6,751.6 244.8,745.5 248.3,739.3 252.7,731.5 256.2,723.6 259.7,716.6 264.1,708.7 268,700.8 269.3,706.1 270.6,733.2 272.4,752.9 277.3,746.8 282.4,740.7 287.5,734.5 292.6,728.9 297.7,723.8 302.8,718.7 307.9,714.4 313,710.5 318.1,707.2 323.8,704.2 325.3,701.8 329.4,694.2 332.3,688.7 339.4,678.1 342.1,680.5 344.5,680.1 350.5,730.8 357.1,721.6 363.6,714.3 370.2,707.8 376.8,701.9 383.4,697.3 389.9,693.3 396.5,690.7 401.1,689.4 407.7,678.2 416.2,681.5 418.8,680.2 423.4,714.3 430.5,707.8 437.1,702.5 443.7,697.9 450.2,694 456.8,690.7 461.4,689.4 468,678.2 477.8,682.2 479.8,680.2 482.4,701.2 489.6,696.6 497.5,692.7 506.1,690 509.3,683.6 513.8,677.9 519.5,679.5 523.6,681.5 525.6,680.5 526.6,693.8 531.7,691.7 537.9,690.1 539.9,686.6 545,677.9 551.2,679.9 555.3,681.5 556.7,679.5 559.3,681.9 561.4,680.5 565.5,677.4 567.5,680.5 569.6,693.8 571,691.3 574.7,693.8 579.2,699.9" fill="none" stroke="#007600" stroke-width="2.8" stroke-linejoin="round" stroke-linecap="round"/>
<polyline points="193.9,911.2 203.1,915.1 211,919.7 218.9,925.6 226.8,932.8 234.7,940.7 241.9,949.3 244.5,953.9 247.8,963.1 251.1,974.9 254.4,986.7 258.3,997.2 262.3,1005.1 266.2,1010.4 267.5,1022.8 268.7,1010.4 271.7,981.7 284,993 296.3,1000.1 310.6,1005.3 323.9,1010.4 324.9,1022.6 327.2,1032 330.2,1040.1 335.3,1044.2 340.4,1048.3 343.5,1051.4 344.5,1025.8 345.5,1015.6 350.7,1006.4 362.9,1009.5 381.3,1013.6 400.7,1018.7 401.7,1025.8 402.8,1036.1 405.8,1040.1 408.9,1046.3 412,1048.3 417.7,1050.8 419.1,1032 420.1,1015.6 424.2,1009.5 442.6,1013.6 460.2,1018.9 461.9,1029.5 463.3,1037.7 466.3,1041.7 469.4,1047.5 472.5,1048.9 478.2,1050.9 479.6,1029.5 480.7,1017.2 482.7,1013.1 490.9,1014.8 506.2,1019.3 507.6,1029.5 509.3,1037.7 512.3,1041.7 515.4,1047.9 523.2,1050.9 524.6,1033.6 526.6,1016.2 537.9,1019.3 539.3,1031.5 540.9,1038.7 545,1043.8 547.7,1047.9 554.6,1050.9 556.3,1045.8 557.9,1044.8 559.3,1049.9 561.4,1049.9 568.1,1043.8 570.6,1018.2 579.8,1013.1" fill="none" stroke="#ff0000" stroke-width="2.6" stroke-linejoin="round" stroke-linecap="round"/>
<polyline points="193.5,952.2 268.7,1057.8 272.2,981.7 342.9,1081 350.7,989 417.7,1081 424.2,1007.4 477.6,1082.2 482.3,1026.4 523.2,1082.2 527.3,1044.2 554.6,1082.2 556.7,1063.2 557.9,1063.2 560.4,1082.2 579.2,1029.5" fill="none" stroke="#000" stroke-width="2.8" stroke-linejoin="round" stroke-linecap="round"/>
<line x1="240.1" y1="1100.6" x2="269.3" y2="1100.6" stroke="#2e75b6" stroke-width="4.0"/>
<line x1="318.8" y1="1100.6" x2="346.6" y2="1100.6" stroke="#2e75b6" stroke-width="4.0"/>
<line x1="411.6" y1="1100.6" x2="420.6" y2="1100.6" stroke="#2e75b6" stroke-width="4.0"/>
<line x1="471.5" y1="1100.6" x2="481.1" y2="1100.6" stroke="#2e75b6" stroke-width="4.0"/>
<line x1="517.4" y1="1100.6" x2="526.6" y2="1100.6" stroke="#2e75b6" stroke-width="4.0"/>
<line x1="548.5" y1="1100.6" x2="563.4" y2="1100.6" stroke="#2e75b6" stroke-width="4.0"/>
<line x1="256.6" y1="826" x2="305.8" y2="826" stroke="#007600" stroke-width="2.4"/>
<line x1="258.1" y1="853.4" x2="307.4" y2="853.4" stroke="#ff00ff" stroke-width="2.4"/>
<text x="332.6" y="834.7" font-size="24" text-anchor="start">SiO<tspan font-size="14" dy="3.2">2</tspan><tspan dy="-3.2"> in melt</tspan></text>
<text x="332.2" y="860.3" font-size="24" text-anchor="start">crystal in the system</text>
<line x1="258.2" y1="896" x2="307.3" y2="896" stroke="#ff0000" stroke-width="2.2"/>
<line x1="261" y1="918.2" x2="310.5" y2="918.2" stroke="#000" stroke-width="2.4"/>
<line x1="282" y1="945.5" x2="289" y2="945.5" stroke="#2e75b6" stroke-width="2.6"/>
<text x="334.4" y="904.2" font-size="24" text-anchor="start">Anorthite content</text>
<text x="337.8" y="926.4" font-size="24" text-anchor="start">Temperature</text>
<text x="337.6" y="953.3" font-size="24" text-anchor="start">H<tspan font-size="14" dy="3.2">2</tspan><tspan dy="-3.2">O saturated</tspan></text>
<text x="13" y="1266.4" font-size="40" text-anchor="start" style="stroke-width:0">(c)</text>
<polyline points="194.4,1510.1 197.3,1497 200.9,1480.9 204.6,1464.8 209,1451.7 213.4,1438.6 218.5,1424 222.8,1410.8 226.4,1404 232.5,1389.2 238.6,1378.6 244.3,1369.9 246.5,1362 249.2,1352.4 251.8,1342.7 254,1333.1 256.2,1322.6 258.8,1313 261.4,1305.1 264,1298.9 266.7,1293.7 269.3,1294.1 270.6,1307.7 272.7,1438 276.9,1427.1 280.9,1414.7 284.6,1405.9 289,1395.7 294.1,1385.5 298.5,1377.4 302.8,1370.1 304.3,1366.5 307.2,1354.1 310.9,1343.1 313.8,1330 317.7,1317.4 322.8,1299 324.9,1293.9 326.9,1292.9 330.5,1287.3 335.3,1283.7 340.4,1280.2 342.9,1272.5 344.9,1272.5 346.6,1279.6 349.6,1290.9 351.1,1303.1 352.3,1331.7 353.1,1421.9 361.9,1400 369,1383.9 378.2,1370.6 381.3,1360.4 387.4,1335.8 392.6,1313.4 398.7,1295 401.7,1293.3 405.8,1287.8 409.9,1283.7 416.1,1280.2 418.5,1272.5 421.2,1272.9 423.2,1280.7 425.3,1290.9 426.3,1303.1 427.3,1331.7 429.3,1390.2 439.6,1370.6 444.7,1348.1 450.8,1323.6 454.1,1319.5 458.2,1305.2 461.9,1293.9 464.3,1293.3 468.4,1286.8 472.5,1283.1 476.6,1280.7 480.2,1272.1 482.3,1272.5 483.7,1278.6 486.4,1285.8 486.8,1311.3 487.8,1364.5 490.9,1352.2 495,1335.8 500.1,1317.4 505.2,1303.1 509.3,1293.9 511.3,1293.3 515.4,1286.8 520.5,1283.1 524.6,1280.7 527.7,1272.1 529.7,1274.1 530.7,1278.6 532.8,1281.1" fill="none" stroke="#ff00ff" stroke-width="2.8" stroke-linejoin="round" stroke-linecap="round"/>
<polyline points="193.6,1432.7 198.8,1429.1 209,1421.8 217.7,1415.9 224.6,1404.9 232.5,1394.4 238.6,1387.4 244.8,1381.3 248.3,1375.1 252.7,1367.3 256.2,1359.4 259.7,1352.4 264.1,1344.5 268,1336.6 269.3,1341.9 270.6,1369 272.2,1400 272.6,1416.2 273.6,1417.6 275.8,1416.9 279.5,1411 284.6,1405.2 289.7,1399.3 294.8,1392.8 299.2,1387.7 303.6,1383.3 306.5,1378.2 310.9,1369.4 315.3,1359.2 320,1347.5 328.2,1333.8 334.3,1324.6 340.4,1315 342.9,1317 344.5,1315.8 346.2,1317.4 348.6,1335.8 350.7,1356.3 352.3,1400 353.7,1412.7 362.9,1397.1 371.1,1389 379.3,1382.8 387.4,1366.5 395.6,1350.1 401.7,1336.9 409.9,1324.6 416.1,1315 418.5,1317 420.6,1315.8 422.2,1317.4 424.2,1335.8 426.3,1364.5 428.3,1395.3 431.4,1392 440.6,1382.8 448.8,1366.5 456.1,1354.2 464.3,1336.9 470.4,1326.6 477.6,1314.4 480.2,1317.4 482.3,1316.4 483.7,1317.4 486.4,1337.9 487.2,1379.8 488.8,1379.8 495,1368.5 503.1,1350.1 511.3,1335.8 517.4,1327.7 525.2,1314.4 527.7,1317 530.7,1315.8 532.2,1329.7" fill="none" stroke="#007600" stroke-width="2.8" stroke-linejoin="round" stroke-linecap="round"/>
<rect x="228" y="1428" width="320" height="85" fill="#fff"/>
<polyline points="193.9,1547.6 203.1,1551.5 211,1556.1 218.9,1562 226.8,1569.2 234.7,1577.1 241.9,1585.7 244.5,1590.3 247.8,1599.5 251.1,1611.3 254.4,1623.1 258.3,1633.6 262.3,1641.5 266.2,1646.8 267.5,1659.2 268.7,1650.4 273.4,1560.4 286.1,1570.7 302.4,1590.1 308.5,1610.5 316.7,1634 320,1638.1 324.9,1646.3 327.2,1662.6 331.2,1674.9 336.3,1680 341.5,1684.1 344.5,1686.7 346.2,1658.5 347.6,1650.4 351.7,1621.7 352.7,1564.5 356.8,1566.6 367,1577.8 379.3,1591.1 385.4,1611.5 391.5,1630.9 396.6,1642.2 400.7,1647.3 402.2,1660.6 405.8,1674.9 412,1681 419.7,1686.7 421.8,1658.5 424.6,1642.2 427.9,1576.8 439.6,1591.1 444.7,1609.5 451.8,1630.9 457.2,1640.1 462.7,1647.3 464.3,1662.6 468,1674.9 473.5,1681 481.7,1686.7 483.7,1653.4 485.8,1650.4 487.8,1595.2 492.9,1607.4 499,1625.8 504.2,1639.1 509.7,1646.3 511.3,1660.6 515.4,1674.9 521.5,1681 528.7,1686.7 530.7,1674.9 532.2,1652" fill="none" stroke="#ff0000" stroke-width="2.6" stroke-linejoin="round" stroke-linecap="round"/>
<polyline points="193.5,1588.4 268.7,1693.7 272.8,1619.3 344.1,1717.8 353.1,1625.4 420.1,1717.8 427.9,1644.2 481.7,1717.8 486.8,1662.2 528.7,1717.8 532.2,1680.6" fill="none" stroke="#000" stroke-width="2.8" stroke-linejoin="round" stroke-linecap="round"/>
<line x1="241.1" y1="1737" x2="268.3" y2="1737" stroke="#0000f2" stroke-width="3.8"/>
<line x1="300.4" y1="1737" x2="346.6" y2="1737" stroke="#0000f2" stroke-width="3.8"/>
<line x1="374.2" y1="1737" x2="422.6" y2="1737" stroke="#0000f2" stroke-width="3.8"/>
<line x1="435.5" y1="1737" x2="531.3" y2="1737" stroke="#0000f2" stroke-width="3.8"/>
<line x1="193.5" y1="1253.9" x2="193.5" y2="1773.3" stroke="#2b2b2b" stroke-width="1.2"/>
<line x1="585.4" y1="1253.9" x2="585.4" y2="1773.3" stroke="#2b2b2b" stroke-width="1.2"/>
<line x1="193.5" y1="1513.6" x2="585.4" y2="1513.6" stroke="#2b2b2b" stroke-width="1.2"/>
<line x1="193.5" y1="1773.3" x2="585.4" y2="1773.3" stroke="#2b2b2b" stroke-width="1.2"/>
<line x1="193.5" y1="1508.41" x2="198.8" y2="1508.41" stroke="#2b2b2b" stroke-width="1.2"/>
<line x1="193.5" y1="1498.02" x2="198.8" y2="1498.02" stroke="#2b2b2b" stroke-width="1.2"/>
<line x1="193.5" y1="1487.63" x2="204" y2="1487.63" stroke="#2b2b2b" stroke-width="1.2"/>
<line x1="193.5" y1="1477.24" x2="198.8" y2="1477.24" stroke="#2b2b2b" stroke-width="1.2"/>
<line x1="193.5" y1="1466.85" x2="198.8" y2="1466.85" stroke="#2b2b2b" stroke-width="1.2"/>
<line x1="193.5" y1="1456.47" x2="198.8" y2="1456.47" stroke="#2b2b2b" stroke-width="1.2"/>
<line x1="193.5" y1="1446.08" x2="198.8" y2="1446.08" stroke="#2b2b2b" stroke-width="1.2"/>
<line x1="193.5" y1="1435.69" x2="204" y2="1435.69" stroke="#2b2b2b" stroke-width="1.2"/>
<line x1="193.5" y1="1425.3" x2="198.8" y2="1425.3" stroke="#2b2b2b" stroke-width="1.2"/>
<line x1="193.5" y1="1414.91" x2="198.8" y2="1414.91" stroke="#2b2b2b" stroke-width="1.2"/>
<line x1="193.5" y1="1404.53" x2="198.8" y2="1404.53" stroke="#2b2b2b" stroke-width="1.2"/>
<line x1="193.5" y1="1394.14" x2="198.8" y2="1394.14" stroke="#2b2b2b" stroke-width="1.2"/>
<line x1="193.5" y1="1383.75" x2="204" y2="1383.75" stroke="#2b2b2b" stroke-width="1.2"/>
<line x1="193.5" y1="1373.36" x2="198.8" y2="1373.36" stroke="#2b2b2b" stroke-width="1.2"/>
<line x1="193.5" y1="1362.97" x2="198.8" y2="1362.97" stroke="#2b2b2b" stroke-width="1.2"/>
<line x1="193.5" y1="1352.59" x2="198.8" y2="1352.59" stroke="#2b2b2b" stroke-width="1.2"/>
<line x1="193.5" y1="1342.2" x2="198.8" y2="1342.2" stroke="#2b2b2b" stroke-width="1.2"/>
<line x1="193.5" y1="1331.81" x2="204" y2="1331.81" stroke="#2b2b2b" stroke-width="1.2"/>
<line x1="193.5" y1="1321.42" x2="198.8" y2="1321.42" stroke="#2b2b2b" stroke-width="1.2"/>
<line x1="193.5" y1="1311.03" x2="198.8" y2="1311.03" stroke="#2b2b2b" stroke-width="1.2"/>
<line x1="193.5" y1="1300.65" x2="198.8" y2="1300.65" stroke="#2b2b2b" stroke-width="1.2"/>
<line x1="193.5" y1="1290.26" x2="198.8" y2="1290.26" stroke="#2b2b2b" stroke-width="1.2"/>
<line x1="193.5" y1="1279.87" x2="204" y2="1279.87" stroke="#2b2b2b" stroke-width="1.2"/>
<line x1="193.5" y1="1269.48" x2="198.8" y2="1269.48" stroke="#2b2b2b" stroke-width="1.2"/>
<line x1="193.5" y1="1259.09" x2="198.8" y2="1259.09" stroke="#2b2b2b" stroke-width="1.2"/>
<line x1="585.4" y1="1513.6" x2="575.4" y2="1513.6" stroke="#2b2b2b" stroke-width="1.2"/>
<line x1="585.4" y1="1500.62" x2="580.1" y2="1500.62" stroke="#2b2b2b" stroke-width="1.2"/>
<line x1="585.4" y1="1487.63" x2="580.1" y2="1487.63" stroke="#2b2b2b" stroke-width="1.2"/>
<line x1="585.4" y1="1474.64" x2="580.1" y2="1474.64" stroke="#2b2b2b" stroke-width="1.2"/>
<line x1="585.4" y1="1461.66" x2="575.4" y2="1461.66" stroke="#2b2b2b" stroke-width="1.2"/>
<line x1="585.4" y1="1448.67" x2="580.1" y2="1448.67" stroke="#2b2b2b" stroke-width="1.2"/>
<line x1="585.4" y1="1435.69" x2="580.1" y2="1435.69" stroke="#2b2b2b" stroke-width="1.2"/>
<line x1="585.4" y1="1422.7" x2="580.1" y2="1422.7" stroke="#2b2b2b" stroke-width="1.2"/>
<line x1="585.4" y1="1409.72" x2="575.4" y2="1409.72" stroke="#2b2b2b" stroke-width="1.2"/>
<line x1="585.4" y1="1396.73" x2="580.1" y2="1396.73" stroke="#2b2b2b" stroke-width="1.2"/>
<line x1="585.4" y1="1383.75" x2="580.1" y2="1383.75" stroke="#2b2b2b" stroke-width="1.2"/>
<line x1="585.4" y1="1370.77" x2="580.1" y2="1370.77" stroke="#2b2b2b" stroke-width="1.2"/>
<line x1="585.4" y1="1357.78" x2="575.4" y2="1357.78" stroke="#2b2b2b" stroke-width="1.2"/>
<line x1="585.4" y1="1344.8" x2="580.1" y2="1344.8" stroke="#2b2b2b" stroke-width="1.2"/>
<line x1="585.4" y1="1331.81" x2="580.1" y2="1331.81" stroke="#2b2b2b" stroke-width="1.2"/>
<line x1="585.4" y1="1318.83" x2="580.1" y2="1318.83" stroke="#2b2b2b" stroke-width="1.2"/>
<line x1="585.4" y1="1305.84" x2="575.4" y2="1305.84" stroke="#2b2b2b" stroke-width="1.2"/>
<line x1="585.4" y1="1292.86" x2="580.1" y2="1292.86" stroke="#2b2b2b" stroke-width="1.2"/>
<line x1="585.4" y1="1279.87" x2="580.1" y2="1279.87" stroke="#2b2b2b" stroke-width="1.2"/>
<line x1="585.4" y1="1266.89" x2="580.1" y2="1266.89" stroke="#2b2b2b" stroke-width="1.2"/>
<line x1="585.4" y1="1253.9" x2="575.4" y2="1253.9" stroke="#2b2b2b" stroke-width="1.2"/>
<line x1="193.5" y1="1754.75" x2="198.8" y2="1754.75" stroke="#2b2b2b" stroke-width="1.2"/>
<line x1="193.5" y1="1736.2" x2="204" y2="1736.2" stroke="#2b2b2b" stroke-width="1.2"/>
<line x1="193.5" y1="1717.65" x2="198.8" y2="1717.65" stroke="#2b2b2b" stroke-width="1.2"/>
<line x1="193.5" y1="1699.1" x2="204" y2="1699.1" stroke="#2b2b2b" stroke-width="1.2"/>
<line x1="193.5" y1="1680.55" x2="198.8" y2="1680.55" stroke="#2b2b2b" stroke-width="1.2"/>
<line x1="193.5" y1="1662" x2="204" y2="1662" stroke="#2b2b2b" stroke-width="1.2"/>
<line x1="193.5" y1="1643.45" x2="198.8" y2="1643.45" stroke="#2b2b2b" stroke-width="1.2"/>
<line x1="193.5" y1="1624.9" x2="204" y2="1624.9" stroke="#2b2b2b" stroke-width="1.2"/>
<line x1="193.5" y1="1606.35" x2="198.8" y2="1606.35" stroke="#2b2b2b" stroke-width="1.2"/>
<line x1="193.5" y1="1587.8" x2="204" y2="1587.8" stroke="#2b2b2b" stroke-width="1.2"/>
<line x1="193.5" y1="1569.25" x2="198.8" y2="1569.25" stroke="#2b2b2b" stroke-width="1.2"/>
<line x1="193.5" y1="1550.7" x2="204" y2="1550.7" stroke="#2b2b2b" stroke-width="1.2"/>
<line x1="193.5" y1="1532.15" x2="198.8" y2="1532.15" stroke="#2b2b2b" stroke-width="1.2"/>
<line x1="585.4" y1="1754.75" x2="580.1" y2="1754.75" stroke="#2b2b2b" stroke-width="1.2"/>
<line x1="585.4" y1="1736.2" x2="575.4" y2="1736.2" stroke="#2b2b2b" stroke-width="1.2"/>
<line x1="585.4" y1="1717.65" x2="580.1" y2="1717.65" stroke="#2b2b2b" stroke-width="1.2"/>
<line x1="585.4" y1="1699.1" x2="575.4" y2="1699.1" stroke="#2b2b2b" stroke-width="1.2"/>
<line x1="585.4" y1="1680.55" x2="580.1" y2="1680.55" stroke="#2b2b2b" stroke-width="1.2"/>
<line x1="585.4" y1="1662" x2="575.4" y2="1662" stroke="#2b2b2b" stroke-width="1.2"/>
<line x1="585.4" y1="1643.45" x2="580.1" y2="1643.45" stroke="#2b2b2b" stroke-width="1.2"/>
<line x1="585.4" y1="1624.9" x2="575.4" y2="1624.9" stroke="#2b2b2b" stroke-width="1.2"/>
<line x1="585.4" y1="1606.35" x2="580.1" y2="1606.35" stroke="#2b2b2b" stroke-width="1.2"/>
<line x1="585.4" y1="1587.8" x2="575.4" y2="1587.8" stroke="#2b2b2b" stroke-width="1.2"/>
<line x1="585.4" y1="1569.25" x2="580.1" y2="1569.25" stroke="#2b2b2b" stroke-width="1.2"/>
<line x1="585.4" y1="1550.7" x2="575.4" y2="1550.7" stroke="#2b2b2b" stroke-width="1.2"/>
<line x1="585.4" y1="1532.15" x2="580.1" y2="1532.15" stroke="#2b2b2b" stroke-width="1.2"/>
<line x1="226.16" y1="1773.3" x2="226.16" y2="1768.7" stroke="#2b2b2b" stroke-width="1.2"/>
<line x1="226.16" y1="1513.6" x2="226.16" y2="1518.2" stroke="#2b2b2b" stroke-width="1.2"/>
<line x1="258.82" y1="1773.3" x2="258.82" y2="1763.9" stroke="#2b2b2b" stroke-width="1.2"/>
<line x1="258.82" y1="1513.6" x2="258.82" y2="1523" stroke="#2b2b2b" stroke-width="1.2"/>
<line x1="291.48" y1="1773.3" x2="291.48" y2="1768.7" stroke="#2b2b2b" stroke-width="1.2"/>
<line x1="291.48" y1="1513.6" x2="291.48" y2="1518.2" stroke="#2b2b2b" stroke-width="1.2"/>
<line x1="324.13" y1="1773.3" x2="324.13" y2="1763.9" stroke="#2b2b2b" stroke-width="1.2"/>
<line x1="324.13" y1="1513.6" x2="324.13" y2="1523" stroke="#2b2b2b" stroke-width="1.2"/>
<line x1="356.79" y1="1773.3" x2="356.79" y2="1768.7" stroke="#2b2b2b" stroke-width="1.2"/>
<line x1="356.79" y1="1513.6" x2="356.79" y2="1518.2" stroke="#2b2b2b" stroke-width="1.2"/>
<line x1="389.45" y1="1773.3" x2="389.45" y2="1763.9" stroke="#2b2b2b" stroke-width="1.2"/>
<line x1="389.45" y1="1513.6" x2="389.45" y2="1523" stroke="#2b2b2b" stroke-width="1.2"/>
<line x1="422.11" y1="1773.3" x2="422.11" y2="1768.7" stroke="#2b2b2b" stroke-width="1.2"/>
<line x1="422.11" y1="1513.6" x2="422.11" y2="1518.2" stroke="#2b2b2b" stroke-width="1.2"/>
<line x1="454.77" y1="1773.3" x2="454.77" y2="1763.9" stroke="#2b2b2b" stroke-width="1.2"/>
<line x1="454.77" y1="1513.6" x2="454.77" y2="1523" stroke="#2b2b2b" stroke-width="1.2"/>
<line x1="487.43" y1="1773.3" x2="487.43" y2="1768.7" stroke="#2b2b2b" stroke-width="1.2"/>
<line x1="487.43" y1="1513.6" x2="487.43" y2="1518.2" stroke="#2b2b2b" stroke-width="1.2"/>
<line x1="520.08" y1="1773.3" x2="520.08" y2="1763.9" stroke="#2b2b2b" stroke-width="1.2"/>
<line x1="520.08" y1="1513.6" x2="520.08" y2="1523" stroke="#2b2b2b" stroke-width="1.2"/>
<line x1="552.74" y1="1773.3" x2="552.74" y2="1768.7" stroke="#2b2b2b" stroke-width="1.2"/>
<line x1="552.74" y1="1513.6" x2="552.74" y2="1518.2" stroke="#2b2b2b" stroke-width="1.2"/>
<g transform="translate(186.2 1497.83) scale(1 1.06)"><text font-size="27.0" text-anchor="end">40</text></g>
<g transform="translate(186.2 1445.89) scale(1 1.06)"><text font-size="27.0" text-anchor="end">50</text></g>
<g transform="translate(186.2 1393.95) scale(1 1.06)"><text font-size="27.0" text-anchor="end">60</text></g>
<g transform="translate(186.2 1342.01) scale(1 1.06)"><text font-size="27.0" text-anchor="end">70</text></g>
<g transform="translate(186.2 1290.07) scale(1 1.06)"><text font-size="27.0" text-anchor="end">80</text></g>
<g transform="translate(593.2 1523.9) scale(1 1.06)"><text font-size="27.3" text-anchor="start">0</text></g>
<g transform="translate(593.2 1471.96) scale(1 1.06)"><text font-size="27.3" text-anchor="start">20</text></g>
<g transform="translate(593.2 1420.02) scale(1 1.06)"><text font-size="27.3" text-anchor="start">40</text></g>
<g transform="translate(593.2 1368.08) scale(1 1.06)"><text font-size="27.3" text-anchor="start">60</text></g>
<g transform="translate(593.2 1316.14) scale(1 1.06)"><text font-size="27.3" text-anchor="start">80</text></g>
<g transform="translate(593.2 1264.2) scale(1 1.06)"><text font-size="27.3" text-anchor="start">100</text><rect x="1.09" y="-3.41" width="5.79" height="5.46" fill="#fff"/><rect x="9.23" y="-3.41" width="5.46" height="5.46" fill="#fff"/></g>
<g transform="translate(186.1 1783.5) scale(1 1.06)"><text font-size="27.0" text-anchor="end">600</text></g>
<g transform="translate(186.1 1746.4) scale(1 1.06)"><text font-size="27.0" text-anchor="end">700</text></g>
<g transform="translate(186.1 1709.3) scale(1 1.06)"><text font-size="27.0" text-anchor="end">800</text></g>
<g transform="translate(186.1 1672.2) scale(1 1.06)"><text font-size="27.0" text-anchor="end">900</text></g>
<g transform="translate(186.1 1635.1) scale(1 1.06)"><text font-size="27.0" text-anchor="end">1000</text><rect x="-58.98" y="-3.38" width="5.72" height="5.4" fill="#fff"/><rect x="-50.94" y="-3.38" width="5.4" height="5.4" fill="#fff"/></g>
<g transform="translate(186.1 1598) scale(1 1.06)"><text font-size="27.0" text-anchor="end">1100</text><rect x="-56.98" y="-3.38" width="5.72" height="5.4" fill="#fff"/><rect x="-48.94" y="-3.38" width="5.4" height="5.4" fill="#fff"/><rect x="-43.97" y="-3.38" width="5.72" height="5.4" fill="#fff"/><rect x="-35.92" y="-3.38" width="5.4" height="5.4" fill="#fff"/></g>
<g transform="translate(186.1 1560.9) scale(1 1.06)"><text font-size="27.0" text-anchor="end">1200</text><rect x="-58.98" y="-3.38" width="5.72" height="5.4" fill="#fff"/><rect x="-50.94" y="-3.38" width="5.4" height="5.4" fill="#fff"/></g>
<g transform="translate(593.2 1783.6) scale(1 1.06)"><text font-size="27.3" text-anchor="start">30</text></g>
<g transform="translate(593.2 1746.5) scale(1 1.06)"><text font-size="27.3" text-anchor="start">40</text></g>
<g transform="translate(593.2 1709.4) scale(1 1.06)"><text font-size="27.3" text-anchor="start">50</text></g>
<g transform="translate(593.2 1672.3) scale(1 1.06)"><text font-size="27.3" text-anchor="start">60</text></g>
<g transform="translate(593.2 1635.2) scale(1 1.06)"><text font-size="27.3" text-anchor="start">70</text></g>
<g transform="translate(593.2 1598.1) scale(1 1.06)"><text font-size="27.3" text-anchor="start">80</text></g>
<g transform="translate(593.2 1561) scale(1 1.06)"><text font-size="27.3" text-anchor="start">90</text></g>
<g transform="translate(193.5 1805.3) scale(1 1)"><text font-size="27.5" text-anchor="middle">0</text></g>
<g transform="translate(258.82 1805.3) scale(1 1)"><text font-size="27.5" text-anchor="middle">50</text></g>
<g transform="translate(324.13 1805.3) scale(1 1)"><text font-size="27.5" text-anchor="middle">100</text><rect x="-21.84" y="-3.44" width="5.83" height="5.5" fill="#fff"/><rect x="-13.65" y="-3.44" width="5.5" height="5.5" fill="#fff"/></g>
<g transform="translate(389.45 1805.3) scale(1 1)"><text font-size="27.5" text-anchor="middle">150</text><rect x="-21.84" y="-3.44" width="5.83" height="5.5" fill="#fff"/><rect x="-13.65" y="-3.44" width="5.5" height="5.5" fill="#fff"/></g>
<g transform="translate(454.77 1805.3) scale(1 1)"><text font-size="27.5" text-anchor="middle">200</text></g>
<g transform="translate(520.08 1805.3) scale(1 1)"><text font-size="27.5" text-anchor="middle">250</text></g>
<g transform="translate(585.4 1805.3) scale(1 1)"><text font-size="27.5" text-anchor="middle">300</text></g>
<text x="389.3" y="1848.6" font-size="31.8" text-anchor="middle">step</text>
<text x="135" y="1515.4" font-size="31.5" text-anchor="start" transform="rotate(-90 135 1515.4)">SiO<tspan font-size="18.5" dy="4">2</tspan><tspan dy="-4"> in melt (wt %)</tspan></text>
<text x="103.6" y="1752.2" font-size="31.2" text-anchor="start" transform="rotate(-90 103.6 1752.2)">Temperature <tspan font-size="18" dy="-14">o</tspan><tspan dy="14">C</tspan></text>
<text x="650.5" y="1298.9" font-size="29.6" text-anchor="start" transform="rotate(90 650.5 1298.9)">ϕ</text>
<text x="659.6" y="1327.11" font-size="31.5" text-anchor="start" transform="rotate(90 659.6 1327.11)">(mass%)</text>
<text x="645.8" y="1625.1" font-size="30.8" text-anchor="start" transform="rotate(90 645.8 1625.1)">An</text>
<line x1="235.9" y1="1441.2" x2="284.9" y2="1441.2" stroke="#007600" stroke-width="2.2"/>
<line x1="237.5" y1="1466.2" x2="286.6" y2="1466.2" stroke="#ff00ff" stroke-width="2.2"/>
<line x1="235.9" y1="1487.2" x2="284.9" y2="1487.2" stroke="#ff0000" stroke-width="2.2"/>
<line x1="235.2" y1="1525.3" x2="284.2" y2="1525.3" stroke="#000" stroke-width="2.4"/>
<line x1="256.2" y1="1553.3" x2="263.2" y2="1553.3" stroke="#0000f2" stroke-width="2.6"/>
<text x="311.9" y="1449.2" font-size="24" text-anchor="start">SiO<tspan font-size="14" dy="3.2">2</tspan><tspan dy="-3.2"> in melt</tspan></text>
<clipPath id="cc"><rect x="300" y="1440" width="300" height="33.8"/></clipPath>
<text x="313.1" y="1473.3" font-size="24" text-anchor="start" clip-path="url(#cc)">crystalt in the system</text>
<text x="311.5" y="1495.2" font-size="24" text-anchor="start">Anorthite content</text>
<text x="311.5" y="1533.2" font-size="24" text-anchor="start">Temperature</text>
<text x="311.7" y="1560.8" font-size="24" text-anchor="start">H<tspan font-size="14" dy="3.2">2</tspan><tspan dy="-3.2">O saturated</tspan></text>
</svg>
</body></html>
